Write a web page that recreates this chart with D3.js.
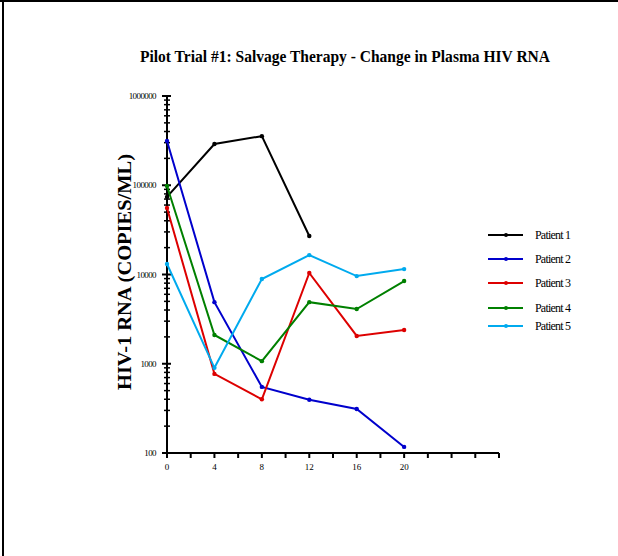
<!DOCTYPE html>
<html>
<head>
<meta charset="utf-8">
<script src="https://cdn.jsdelivr.net/npm/d3@7"></script>
<style>
  html, body { margin: 0; padding: 0; background: #fff; }
  svg { display: block; }
  text { font-family: "Liberation Serif", "Times New Roman", serif; }
</style>
</head>
<body>
<svg id="chart" width="618" height="556"></svg>
<script>
// ---- data ----
const weeks = [0, 4, 8, 12, 16, 20];
const patientNames = ["Patient 1", "Patient 2", "Patient 3", "Patient 4", "Patient 5"];
const patientColors = ["#000000", "#0000cc", "#dd0000", "#008000", "#00aaee"];
const patient1 = [74000, 290000, 355000, 27000];
const patient2 = [313000, 4900, 550, 395, 311, 117];
const patient3 = [55600, 770, 400, 10400, 2050, 2390];
const patient4 = [98000, 2100, 1070, 4900, 4100, 8450];
const patient5 = [13100, 900, 8900, 16500, 9600, 11500];
const xTickValues = [0, 2, 4, 6, 8, 10, 12, 14, 16, 18, 20, 22, 24, 26, 28];
const xTickLabels = [0, 4, 8, 12, 16, 20];
const yMajorTicks = [100, 1000, 10000, 100000, 1000000];
const titleText = "Pilot Trial #1: Salvage Therapy - Change in Plasma HIV RNA";
const yTitleText = "HIV-1 RNA (COPIES/ML)";

const series = [patient1, patient2, patient3, patient4, patient5];

const svg = d3.select("#chart");

// frame
svg.append("line").attr("x1", 0).attr("x2", 618).attr("y1", 1).attr("y2", 1)
  .attr("stroke", "#000").attr("stroke-width", 2);
svg.append("line").attr("x1", 3).attr("x2", 3).attr("y1", 0).attr("y2", 556)
  .attr("stroke", "#000").attr("stroke-width", 2);

const x = d3.scaleLinear().domain([0, 28]).range([167, 499]);
const y = d3.scaleLog().domain([100, 1000000]).range([453, 96]);

// title
svg.append("text").attr("x", 345).attr("y", 62).attr("text-anchor", "middle")
  .attr("font-size", 16).attr("font-weight", "bold")
  .attr("textLength", 410).attr("lengthAdjust", "spacingAndGlyphs")
  .text(titleText);

// y axis title
svg.append("text")
  .attr("transform", "translate(131,272) rotate(-90)")
  .attr("text-anchor", "middle").attr("font-size", 18).attr("font-weight", "bold")
  .attr("textLength", 236).attr("lengthAdjust", "spacingAndGlyphs")
  .text(yTitleText);

// y axis
const yMinor = [];
for (let d = 100; d < 1000000; d *= 10) for (let m = 2; m <= 9; m++) yMinor.push(d * m);

const gy = svg.append("g");
gy.append("line").attr("x1", x(0)).attr("x2", x(0)).attr("y1", y(1000000)).attr("y2", y(100))
  .attr("stroke", "#000").attr("stroke-width", 2);
gy.selectAll("line.major").data(yMajorTicks).join("line").attr("class", "major")
  .attr("x1", x(0) - 5).attr("x2", x(0) + 4).attr("y1", d => y(d)).attr("y2", d => y(d))
  .attr("stroke", "#000").attr("stroke-width", 2);
gy.selectAll("line.minor").data(yMinor).join("line").attr("class", "minor")
  .attr("x1", x(0) - 3).attr("x2", x(0) + 3).attr("y1", d => y(d)).attr("y2", d => y(d))
  .attr("stroke", "#000").attr("stroke-width", 1.5);
gy.selectAll("text").data(yMajorTicks).join("text")
  .attr("x", x(0) - 11).attr("y", d => y(d) + 3).attr("text-anchor", "end")
  .attr("font-size", 9).attr("letter-spacing", -0.6)
  .text(d => d);

// x axis
const gx = svg.append("g");
gx.append("line").attr("x1", x(0)).attr("x2", x(28)).attr("y1", y(100)).attr("y2", y(100))
  .attr("stroke", "#000").attr("stroke-width", 2);
gx.selectAll("line.tick").data(xTickValues).join("line").attr("class", "tick")
  .attr("x1", d => x(d)).attr("x2", d => x(d)).attr("y1", y(100)).attr("y2", y(100) + 5)
  .attr("stroke", "#000").attr("stroke-width", 2);
gx.selectAll("text").data(xTickLabels).join("text")
  .attr("x", d => x(d)).attr("y", y(100) + 17).attr("text-anchor", "middle")
  .attr("font-size", 9).text(d => d);

// lines
const line = d3.line().x((d, i) => x(weeks[i])).y(d => y(d));
series.forEach((s, k) => {
  svg.append("path").datum(s).attr("d", line).attr("fill", "none")
    .attr("stroke", patientColors[k]).attr("stroke-width", 2);
  svg.selectAll(null).data(s).join("circle")
    .attr("cx", (d, i) => x(weeks[i])).attr("cy", d => y(d)).attr("r", 2.2)
    .attr("fill", patientColors[k]);
});

// legend
const legendY = [235, 259, 283, 308, 326];
const lg = svg.append("g");
patientNames.forEach((name, k) => {
  lg.append("line").attr("x1", 488).attr("x2", 523).attr("y1", legendY[k]).attr("y2", legendY[k])
    .attr("stroke", patientColors[k]).attr("stroke-width", 2);
  lg.append("circle").attr("cx", 506).attr("cy", legendY[k]).attr("r", 2).attr("fill", patientColors[k]);
  lg.append("text").attr("x", 535).attr("y", legendY[k] + 4).attr("font-size", 12)
    .attr("letter-spacing", -0.8).text(name);
});
</script>
</body>
</html>
